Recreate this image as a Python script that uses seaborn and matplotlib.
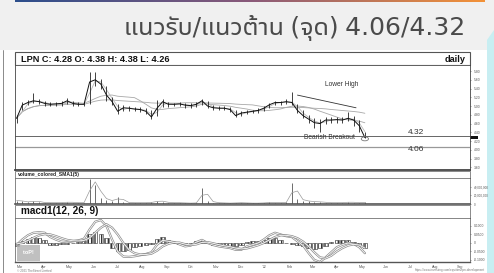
import numpy as np
import pandas as pd
import matplotlib
matplotlib.use("Agg")
import matplotlib.pyplot as plt
import matplotlib.dates as mdates
from matplotlib.patches import Rectangle, Ellipse, Polygon
from matplotlib import font_manager as fm
import seaborn as sns

# ---------------- data ----------------
title = "แนวรับ/แนวต้าน (จุด) 4.06/4.32"
header = "LPN C: 4.28 O: 4.38 H: 4.38 L: 4.26"
support = 4.06
resistance = 4.32

close = [4.72, 5.02, 5.08, 5.12, 5.10, 5.06, 5.04, 5.05, 5.06, 5.12,
         5.06, 5.04, 5.04, 5.55, 5.60, 5.50, 5.25, 5.10, 4.88, 4.96,
         4.95, 4.93, 4.92, 4.88, 4.75, 4.95, 5.10, 5.04, 5.04, 5.05,
         5.02, 5.01, 5.04, 5.12, 5.00, 4.96, 4.95, 4.95, 4.92, 4.78,
         4.84, 4.86, 4.88, 4.90, 4.95, 5.03, 5.08, 5.08, 5.10, 5.08,
         4.90, 4.78, 4.70, 4.62, 4.60, 4.68, 4.68, 4.69, 4.68, 4.72,
         4.68, 4.55, 4.28]
high = [4.80, 5.10, 5.14, 5.30, 5.16, 5.12, 5.10, 5.10, 5.12, 5.18,
        5.12, 5.10, 5.10, 5.78, 5.78, 5.62, 5.45, 5.20, 5.05, 5.02,
        5.00, 4.98, 4.97, 4.95, 4.90, 5.14, 5.15, 5.10, 5.08, 5.09,
        5.06, 5.06, 5.10, 5.17, 5.12, 5.02, 5.00, 4.99, 4.97, 4.90,
        4.88, 4.90, 4.92, 4.95, 5.00, 5.08, 5.12, 5.12, 5.15, 5.32,
        5.05, 4.90, 4.80, 4.72, 4.70, 4.74, 4.74, 4.74, 4.74, 4.86,
        4.78, 4.68, 4.40]
low = [4.62, 4.90, 5.02, 5.06, 5.04, 5.00, 4.99, 5.00, 5.01, 5.04,
       5.00, 4.99, 4.99, 5.05, 5.45, 5.40, 5.12, 5.02, 4.82, 4.88,
       4.88, 4.88, 4.86, 4.82, 4.70, 4.78, 4.98, 4.98, 4.99, 5.00,
       4.96, 4.96, 4.98, 5.02, 4.95, 4.92, 4.90, 4.90, 4.86, 4.74,
       4.78, 4.81, 4.83, 4.85, 4.88, 4.96, 5.02, 5.03, 5.04, 5.02,
       4.85, 4.72, 4.62, 4.50, 4.41, 4.60, 4.62, 4.62, 4.62, 4.65,
       4.55, 4.40, 4.26]
volume_m = [8, 6, 4, 8, 4, 3, 3, 3, 3, 5, 3, 3, 3, 58, 44, 15, 10, 6, 17, 4,
            3, 3, 3, 3, 4, 8, 5, 3, 3, 3, 2, 2, 3, 37, 8, 3, 3, 2, 2, 3,
            3, 2, 2, 2, 3, 4, 3, 3, 4, 48, 12, 8, 6, 5, 5, 3, 3, 3, 3, 5,
            3, 3, 4]
macd = [-0.012, 0.02, 0.045, 0.06, 0.063, 0.06, 0.035, 0.02, 0.008, 0.005,
        0.01, 0.015, 0.025, 0.08, 0.125, 0.135, 0.10, 0.02, -0.05, -0.08,
        -0.082, -0.078, -0.072, -0.065, -0.055, -0.01, 0.015, 0.01, 0.005, -0.008,
        -0.02, -0.015, 0.005, 0.018, 0.0, -0.012, -0.02, -0.025, -0.03, -0.04,
        -0.04, -0.02, -0.01, 0.0, 0.02, 0.045, 0.06, 0.05, 0.04, 0.035,
        0.01, -0.015, -0.06, -0.10, -0.112, -0.085, -0.055, -0.025, -0.01, 0.0,
        -0.005, -0.025, -0.06]
signal = [-0.005, 0.0, 0.015, 0.03, 0.045, 0.052, 0.05, 0.04, 0.028, 0.018,
          0.013, 0.012, 0.015, 0.03, 0.06, 0.09, 0.11, 0.09, 0.05, 0.0,
          -0.04, -0.06, -0.068, -0.068, -0.063, -0.045, -0.02, -0.005, 0.003, 0.002,
          -0.007, -0.012, -0.008, 0.003, 0.005, -0.002, -0.01, -0.017, -0.022, -0.03,
          -0.035, -0.032, -0.023, -0.013, 0.0, 0.018, 0.035, 0.045, 0.045, 0.04,
          0.028, 0.008, -0.02, -0.055, -0.085, -0.09, -0.075, -0.05, -0.03, -0.015,
          -0.008, -0.012, -0.03]
hist = [-0.02, 0.01, 0.025, 0.035, 0.03, 0.015, -0.01, -0.012, -0.008, -0.005,
        0.0, 0.005, 0.01, 0.05, 0.065, 0.05, 0.03, -0.03, -0.05, -0.045,
        -0.04, -0.025, -0.015, -0.01, -0.005, 0.025, 0.035, 0.02, 0.005, -0.008,
        -0.01, -0.005, 0.01, 0.02, 0.005, -0.01, -0.012, -0.012, -0.015, -0.015,
        -0.01, 0.005, 0.01, 0.012, 0.02, 0.03, 0.03, 0.02, 0.0, -0.005,
        -0.012, -0.02, -0.03, -0.035, -0.03, -0.02, 0.005, 0.015, 0.018, 0.015,
        0.005, -0.015, -0.03]
month_labels = ["Mar", "Apr", "May", "Jun", "Jul", "Aug", "Sep", "Oct", "Nov", "Dec",
                "'22", "Feb", "Mar", "Apr", "May", "Jun", "Jul", "Aug", "Sep"]
price_ticks = [3.6, 3.8, 4.0, 4.2, 4.4, 4.6, 4.8, 5.0, 5.2, 5.4, 5.6, 5.8]
vol_ticks = [0, 20e6, 40e6]
macd_ticks = [-0.1, -0.05, 0.0, 0.05, 0.1]

dates = pd.date_range("2021-03-01", periods=len(close), freq="7D")
df = pd.DataFrame({"date": dates, "close": close, "high": high, "low": low,
                   "vol": np.array(volume_m) * 1e6, "macd": macd,
                   "signal": signal, "hist": hist})
df["ma1"] = df["close"].rolling(2, min_periods=1).mean()
df["ma2"] = df["close"].rolling(9, min_periods=1).mean()
df["ma3"] = df["close"].rolling(30, min_periods=1).mean()
df["vsma"] = df["vol"].rolling(2, min_periods=1).mean()

# ---------------- fonts ----------------
sns.set_theme(style="white")
plt.rcParams["font.family"] = ["Liberation Sans", "DejaVu Sans"]


def find_thai_font():
    try:
        from fontTools.ttLib import TTFont
    except Exception:
        return None
    cands = []
    for f in fm.fontManager.ttflist:
        try:
            tt = TTFont(f.fname, fontNumber=0, lazy=True)
            cmap = tt.getBestCmap()
            if cmap and 0x0E41 in cmap and 0x0E49 in cmap:
                name = f.name
                score = 0
                if "Sans" in name:
                    score += 4
                if "Serif" in name:
                    score -= 6
                if "Looped" in name:
                    score -= 3
                if "Thai" in name:
                    score += 2
                if "Noto" in name:
                    score += 1
                if f.weight in ("normal", 400, "regular", "book"):
                    score += 1
                cands.append((score, name))
        except Exception:
            pass
    if not cands:
        return None
    cands.sort(reverse=True)
    return cands[0][1]


thai = find_thai_font()
title_family = ([thai] if thai else []) + ["DejaVu Sans"]

# ---------------- figure ----------------
W, H = 494, 273
fig = plt.figure(figsize=(W / 100, H / 100), dpi=100)
fig.patch.set_facecolor("#f0f0f0")


def rect(x0, y0, x1, y1):
    return [x0 / W, 1 - y1 / H, (x1 - x0) / W, (y1 - y0) / H]


bg = fig.add_axes([0, 0, 1, 1])
bg.set_xlim(0, W)
bg.set_ylim(H, 0)
bg.axis("off")

# top gradient bar
grad = np.linspace(0, 1, 256)[None, :]
cmap_bar = matplotlib.colors.LinearSegmentedColormap.from_list("bar", ["#2c4e8c", "#8a5a7a", "#f39238"])
bg.imshow(grad, extent=(15, 484, 1.6, 0), cmap=cmap_bar, aspect="auto")

# chart image background
bg.add_patch(Rectangle((0, 50), 488, 223, facecolor="white", edgecolor="none"))
# cyan decoration on right edge
bg.add_patch(Polygon([[487, 40], [494, 30], [494, 273], [487, 273]], closed=True,
                     facecolor="#c8eef2", edgecolor="none"))
bg.plot([3, 3], [50, 273], color="#777777", lw=0.6)

# title
bg.text(465, 35, title, ha="right", va="baseline", fontsize=18, color="#4a4a4a",
        family=title_family)

# frames / headers
bg.add_patch(Rectangle((15, 52), 455, 13, facecolor="white", edgecolor="#555555", lw=0.8))
bg.text(21, 59, header, ha="left", va="center", fontsize=6.6, fontweight="bold", color="#111111")
bg.text(466, 59, "daily", ha="right", va="center", fontsize=6.6, fontweight="bold", color="#111111")
bg.add_patch(Rectangle((15, 171), 455, 7, facecolor="white", edgecolor="#777777", lw=0.6))
bg.text(18, 174.5, "volume_colored_SMA1(5)", ha="left", va="center", fontsize=3.6,
        fontweight="bold", color="#222222")
bg.add_patch(Rectangle((15, 205), 455, 13, facecolor="white", edgecolor="#777777", lw=0.6))
bg.text(21, 211.5, "macd1(12, 26, 9)", ha="left", va="center", fontsize=7.2,
        fontweight="bold", color="#111111")
bg.text(17, 270.5, "© 2021 TheStreet Limited", ha="left", va="center", fontsize=2.2, color="#777777")
bg.text(485, 270.5, "https://www.investing.com/equities/lpn-development", ha="right",
        va="center", fontsize=2.2, color="#777777")

xlim = (pd.Timestamp("2021-02-27"), pd.Timestamp("2022-09-17"))

# ---------------- price panel ----------------
axp = fig.add_axes(rect(15, 65, 470, 170))
axp.set_facecolor("white")
sns.lineplot(x=df["date"], y=df["ma3"], ax=axp, color="#a8a8a8", lw=0.6)
sns.lineplot(x=df["date"], y=df["ma2"], ax=axp, color="#a8a8a8", lw=0.6)
sns.lineplot(x=df["date"], y=df["ma1"], ax=axp, color="#b8b8b8", lw=0.6)
axp.vlines(df["date"], df["low"], df["high"], color="#222222", lw=0.6)
sns.lineplot(x=df["date"], y=df["close"], ax=axp, color="#111111", lw=0.7)
axp.axhline(resistance, color="#666666", lw=0.7)
axp.axhline(support, color="#999999", lw=0.9)
axp.plot([pd.Timestamp("2022-01-31") + pd.Timedelta(days=14), pd.Timestamp("2022-04-28")],
         [5.25, 4.96], color="#333333", lw=0.6)
axp.text(pd.Timestamp("2022-04-10"), 5.46, "Lower High", fontsize=4.8, color="#333333", ha="center")
axp.text(pd.Timestamp("2022-03-26"), 4.28, "Bearish Breakout", fontsize=4.8, color="#333333",
         ha="center", va="center")
axp.add_patch(Ellipse((mdates.date2num(pd.Timestamp("2022-05-09")), 4.25), 9, 0.09,
                      facecolor="white", edgecolor="#777777", lw=0.6))
axp.text(pd.Timestamp("2022-07-02"), 4.36, "4.32", fontsize=6, color="#333333")
axp.text(pd.Timestamp("2022-07-02"), 3.98, "4.06", fontsize=6, color="#333333")
axp.set_xlim(*xlim)
axp.set_ylim(3.538, 5.938)
axp.yaxis.tick_right()
axp.set_yticks(price_ticks)
axp.set_yticklabels([f"{v:.2f}" for v in price_ticks])
axp.tick_params(axis="y", labelsize=2.4, colors="#555555", length=1, width=0.4, pad=1.5)
axp.set_xticks([])
axp.set_xlabel("")
axp.set_ylabel("")
for s in axp.spines.values():
    s.set_color("#444444")
    s.set_linewidth(0.6)
axp.spines["bottom"].set_linewidth(1.3)
# current price marker on the price scale
axp.add_patch(Rectangle((1.0, 4.245), 0.018, 0.07, transform=axp.get_yaxis_transform(),
                        facecolor="#111111", edgecolor="none", clip_on=False))

# ---------------- volume panel ----------------
axv = fig.add_axes(rect(15, 178, 470, 204))
axv.set_facecolor("white")
axv.vlines(df["date"], 0, df["vol"], color="#555555", lw=0.6)
sns.lineplot(x=df["date"], y=df["vsma"], ax=axv, color="#9a9a9a", lw=0.5)
axv.set_xlim(*xlim)
axv.set_ylim(0, 60e6)
axv.yaxis.tick_right()
axv.set_yticks(vol_ticks)
axv.set_yticklabels(["0", "20,000,000", "40,000,000"])
axv.tick_params(axis="y", labelsize=2.2, colors="#555555", length=1, width=0.4, pad=1.5)
axv.set_xticks([])
axv.set_xlabel("")
axv.set_ylabel("")
for s in axv.spines.values():
    s.set_color("#555555")
    s.set_linewidth(0.5)
axv.spines["bottom"].set_linewidth(1.2)

# ---------------- macd panel ----------------
axm = fig.add_axes(rect(15, 218, 470, 262))
axm.set_facecolor("white")
axm.bar(df["date"], df["hist"], width=5.5, color="white", edgecolor="#333333",
        hatch="|||||", lw=0.4)
for col in ["macd", "signal"]:
    sns.lineplot(x=df["date"], y=df[col], ax=axm, color="#8a8a8a", lw=1.6)
    sns.lineplot(x=df["date"], y=df[col], ax=axm, color="white", lw=0.6)
axm.set_xlim(*xlim)
axm.set_ylim(-0.112, 0.147)
axm.yaxis.tick_right()
axm.set_yticks(macd_ticks)
axm.set_yticklabels(["-0.1000", "-0.0500", "0", "0.0500", "0.1000"])
axm.tick_params(axis="y", labelsize=2.4, colors="#555555", length=1, width=0.4, pad=1.5)
month_pos = pd.date_range("2021-03-01", periods=len(month_labels), freq="MS")
axm.set_xticks(month_pos)
axm.set_xticklabels(month_labels)
axm.tick_params(axis="x", labelsize=2.6, colors="#555555", length=1, width=0.4, pad=1)
for lbl in axm.get_xticklabels():
    lbl.set_horizontalalignment("left")
axm.set_xlabel("")
axm.set_ylabel("")
for s in axm.spines.values():
    s.set_color("#555555")
    s.set_linewidth(0.5)
axm.spines["bottom"].set_linewidth(1.0)
# logo block
axm.add_patch(Rectangle((0.005, 0.02), 0.05, 0.36, transform=axm.transAxes,
                        facecolor="#b5b5b5", edgecolor="none", alpha=0.85))
axm.text(0.03, 0.22, "toP!", transform=axm.transAxes, fontsize=4, color="white",
         fontweight="bold", ha="center", va="center")

fig.savefig("out.png", dpi=100, facecolor=fig.get_facecolor())
